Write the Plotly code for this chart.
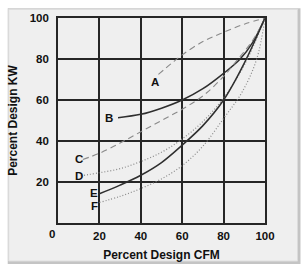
import plotly.graph_objects as go

# ---- data ----
a_x = [48.5, 55, 60, 70, 80, 90, 100]
a_y = [72.5, 78, 82, 88.5, 93, 97, 100]
b_x = [29, 40, 50, 60, 70, 80, 88, 94, 100]
b_y = [51.4, 53, 56, 60, 65.5, 73, 80, 88, 100]
c_x = [12, 20, 30, 40, 50, 60, 70, 80, 87, 94, 100]
c_y = [31, 34, 39, 44.5, 50, 55.5, 62, 71.5, 80, 89, 100]
d_x = [11, 20, 30, 40, 50, 60, 70, 80, 90, 100]
d_y = [23, 24.5, 26.5, 30, 34.5, 41, 49.5, 61, 77, 100]
e_x = [20, 30, 40, 50, 60, 70, 80, 90, 100]
e_y = [14.3, 18.5, 23.3, 29.5, 38, 47.5, 60, 78, 100]
f_x = [20, 30, 40, 50, 60, 70, 80, 89, 96, 100]
f_y = [10, 13, 16.8, 21.5, 28, 37.5, 51, 64, 80, 100]

curve_labels = ["A", "B", "C", "D", "E", "F"]
label_x = [46.7, 24.8, 10, 10, 17.6, 17.6]
label_y = [68.6, 51.4, 31.4, 22.9, 14.6, 8.1]

x_ticks = [20, 40, 60, 80, 100]
y_ticks = [20, 40, 60, 80, 100]
origin_label = "0"
x_title = "Percent Design CFM"
y_title = "Percent Design KW"

FONT = "Liberation Sans, Arial, sans-serif"
SOLID = "#2e2e2e"
GRAY = "#8a8a8a"
TXT = "#111111"

styles = {
    "A": dict(color=GRAY, width=1.1, dash="6px,4px"),
    "B": dict(color=SOLID, width=1.5, dash="solid"),
    "C": dict(color=GRAY, width=1.1, dash="6px,4px"),
    "D": dict(color=GRAY, width=1.2, dash="1px,2px"),
    "E": dict(color=SOLID, width=1.5, dash="solid"),
    "F": dict(color=GRAY, width=1.2, dash="1px,2px"),
}
series = {"A": (a_x, a_y), "B": (b_x, b_y), "C": (c_x, c_y),
          "D": (d_x, d_y), "E": (e_x, e_y), "F": (f_x, f_y)}

fig = go.Figure()
for name, (xs, ys) in series.items():
    fig.add_trace(go.Scatter(x=xs, y=ys, mode="lines", name=name,
                             line=dict(shape="spline", smoothing=1.0, **styles[name]),
                             showlegend=False, hoverinfo="skip"))

W, H = 305, 272
L, R, T, B = 55, 40, 13, 49
pw, ph = W - L - R, H - T - B


def px(xp):
    return (xp - L) / pw


def py(yp):
    return (H - B - yp) / ph


annotations = []
for t, x, y in zip(curve_labels, label_x, label_y):
    annotations.append(dict(x=x, y=y, xref="x", yref="y", text=t, showarrow=False,
                            font=dict(family=FONT, size=11.5, color=TXT, weight="bold"),
                            xanchor="center", yanchor="middle", borderpad=0))
# origin "0" label at lower-left corner
annotations.append(dict(x=px(49), y=py(234), xref="paper", yref="paper", text=origin_label,
                        showarrow=False,
                        font=dict(family=FONT, size=11.5, color=TXT, weight="bold"),
                        xanchor="center", yanchor="middle"))

shapes = [
    dict(type="rect", xref="paper", yref="paper", layer="below",
         x0=px(4), x1=px(301), y0=py(265), y1=py(3),
         fillcolor="#c4c4c4", line=dict(width=0)),
    dict(type="rect", xref="paper", yref="paper", layer="below",
         x0=px(5), x1=px(298), y0=py(262), y1=py(4),
         fillcolor="#efefef", line=dict(color="#dcdcdc", width=1)),
]

tickfont = dict(family=FONT, size=11.5, color=TXT, weight="bold")
fig.update_layout(
    width=W, height=H,
    margin=dict(l=L, r=R, t=T, b=B),
    paper_bgcolor="white",
    plot_bgcolor="#efefef",
    showlegend=False,
    shapes=shapes,
    annotations=annotations,
    xaxis=dict(range=[0, 100], tickvals=x_ticks, showgrid=True, gridcolor="#262626",
               gridwidth=1.7, zeroline=False, showline=True, linecolor="#262626",
               linewidth=1.7, mirror=True, ticks="", tickfont=tickfont,
               ticklabelstandoff=1, fixedrange=True,
               title=dict(text=x_title, standoff=10,
                          font=dict(family=FONT, size=12, color=TXT, weight="bold"))),
    yaxis=dict(range=[0, 100], tickvals=y_ticks, showgrid=True, gridcolor="#262626",
               gridwidth=1.7, zeroline=False, showline=True, linecolor="#262626",
               linewidth=1.7, mirror=True, ticks="", tickfont=tickfont,
               ticklabelstandoff=5, fixedrange=True,
               title=dict(text=y_title, standoff=9,
                          font=dict(family=FONT, size=12, color=TXT, weight="bold"))),
)

fig.write_html("out.html", config={"displayModeBar": False})
